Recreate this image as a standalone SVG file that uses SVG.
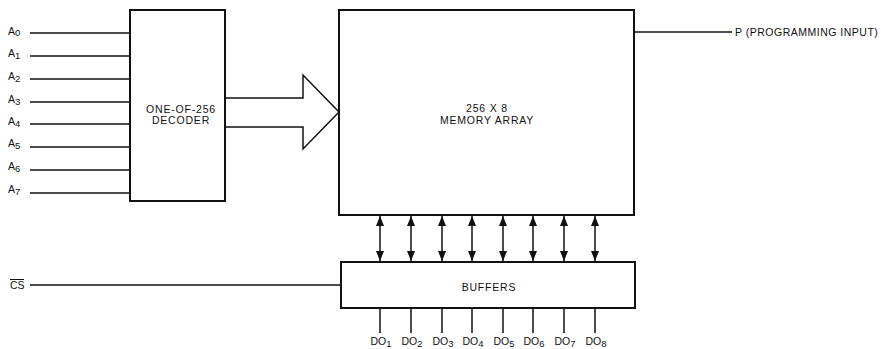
<svg xmlns="http://www.w3.org/2000/svg" width="881" height="349" viewBox="0 0 881 349">
<style>
  text { font-family: "Liberation Sans", Arial, sans-serif; font-size: 10.5px; fill: #111; }
  .wide { letter-spacing: 0.8px; }
  .box { fill: #fff; stroke: #111; stroke-width: 2; }
  .ln { stroke: #111; stroke-width: 1.5; fill: none; }
  .c { text-anchor: middle; }
</style>
<defs>
  <marker id="ah" viewBox="0 0 10 8" refX="10" refY="4" markerWidth="10" markerHeight="8" markerUnits="userSpaceOnUse" orient="auto-start-reverse">
    <path d="M0,0 L10,4 L0,8 Z" fill="#111"/>
  </marker>
</defs>
<rect width="881" height="349" fill="#fff"/>
<g id="connectors">
  <path class="ln" d="M30,33 H130 M30,56 H130 M30,79 H130 M30,102 H130 M30,124 H130 M30,147 H130 M30,170 H130 M30,193 H130"/>
  <path class="ln" d="M30,285 H341"/>
  <path class="ln" d="M634,32 H732"/>
  <path class="ln" d="M225,98 H303 V75 L339,112 L303,149 V127 H225" fill="#fff"/>
  <g marker-start="url(#ah)" marker-end="url(#ah)">
    <path class="ln" d="M380,216 V261"/>
    <path class="ln" d="M411,216 V261"/>
    <path class="ln" d="M442,216 V261"/>
    <path class="ln" d="M472,216 V261"/>
    <path class="ln" d="M503,216 V261"/>
    <path class="ln" d="M533,216 V261"/>
    <path class="ln" d="M564,216 V261"/>
    <path class="ln" d="M595,216 V261"/>
  </g>
  <path class="ln" d="M380,308 V333 M411,308 V333 M442,308 V333 M472,308 V333 M503,308 V333 M533,308 V333 M564,308 V333 M595,308 V333"/>
</g>
<g id="inputs">
  <text x="8" y="35">A<tspan font-size="9.5" dy="1">0</tspan></text>
  <text x="8" y="57">A<tspan font-size="9.5" dy="2">1</tspan></text>
  <text x="8" y="80">A<tspan font-size="9.5" dy="2">2</tspan></text>
  <text x="8" y="103">A<tspan font-size="9.5" dy="2">3</tspan></text>
  <text x="8" y="125">A<tspan font-size="9.5" dy="2">4</tspan></text>
  <text x="8" y="147">A<tspan font-size="9.5" dy="2">5</tspan></text>
  <text x="8" y="170">A<tspan font-size="9.5" dy="2">6</tspan></text>
  <text x="8" y="193">A<tspan font-size="9.5" dy="2">7</tspan></text>
  <text x="10" y="289">CS</text>
  <path d="M10,279.5 H24" stroke="#111" stroke-width="1"/>
</g>
<g id="decoder">
  <rect class="box" x="130" y="10" width="95" height="191"/>
  <text class="c wide" x="181" y="113">ONE-OF-256</text>
  <text class="c wide" x="181" y="124">DECODER</text>
</g>
<g id="memory">
  <rect class="box" x="339" y="10" width="295" height="205"/>
  <text class="c wide" x="487" y="112">256 X 8</text>
  <text class="c wide" x="487" y="124">MEMORY ARRAY</text>
</g>
<g id="programming">
  <text x="735" y="36" letter-spacing="0.5">P (PROGRAMMING INPUT)</text>
</g>
<g id="buffers">
  <rect class="box" x="341" y="262" width="294" height="46"/>
  <text class="c wide" x="489" y="291">BUFFERS</text>
</g>
<g id="outputs">
  <text class="c" x="381" y="345">DO<tspan font-size="9.5" dy="2">1</tspan></text>
  <text class="c" x="412" y="345">DO<tspan font-size="9.5" dy="2">2</tspan></text>
  <text class="c" x="443" y="345">DO<tspan font-size="9.5" dy="2">3</tspan></text>
  <text class="c" x="473" y="345">DO<tspan font-size="9.5" dy="2">4</tspan></text>
  <text class="c" x="504" y="345">DO<tspan font-size="9.5" dy="2">5</tspan></text>
  <text class="c" x="534" y="345">DO<tspan font-size="9.5" dy="2">6</tspan></text>
  <text class="c" x="565" y="345">DO<tspan font-size="9.5" dy="2">7</tspan></text>
  <text class="c" x="596" y="345">DO<tspan font-size="9.5" dy="2">8</tspan></text>
</g>
</svg>
